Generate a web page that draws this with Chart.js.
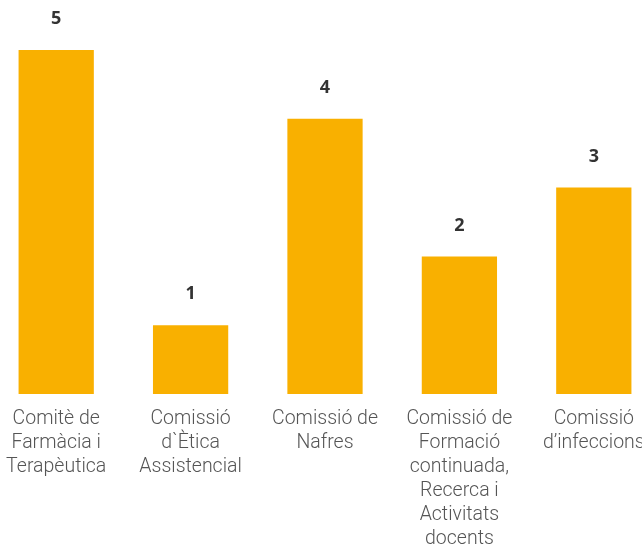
<!DOCTYPE html>
<html>
<head>
<meta charset="utf-8">
<script src="https://cdn.jsdelivr.net/npm/chart.js@4"></script>
<style>
  html, body { margin: 0; padding: 0; background: #fff; overflow: hidden; }
  #wrap { position: absolute; left: -11px; top: 0; width: 672px; height: 550px; }
</style>
</head>
<body>
<div id="wrap"><canvas id="myChart"></canvas></div>
<script>
const categories = [
    ['Comitè de', 'Farmàcia i', 'Terapèutica'],
    ['Comissió', 'd`Ètica', 'Assistencial'],
    ['Comissió de', 'Nafres'],
    ['Comissió de', 'Formació', 'continuada,', 'Recerca i', 'Activitats', 'docents'],
    ['Comissió', 'd’infeccions']
];
const values = [5, 1, 4, 2, 3];

// etiquetes de valor damunt de cada barra
const valueLabels = {
    id: 'valueLabels',
    afterDatasetsDraw(chart) {
        const ctx = chart.ctx;
        const meta = chart.getDatasetMeta(0);
        ctx.save();
        ctx.font = 'bold 18px "Open Sans", sans-serif';
        ctx.fillStyle = '#333333';
        ctx.textAlign = 'center';
        ctx.textBaseline = 'middle';
        meta.data.forEach((bar, i) => {
            ctx.fillText(String(values[i]), bar.x, bar.y - 31);
        });
        ctx.restore();
    }
};

const ctx = document.getElementById('myChart').getContext('2d');
const myChart = new Chart(ctx, {
    type: 'bar',
    data: {
        labels: categories,
        datasets: [{
            data: values,
            backgroundColor: '#f9b000',
            borderWidth: 0,
            categoryPercentage: 1,
            barPercentage: 0.56
        }]
    },
    plugins: [valueLabels],
    options: {
        responsive: true,
        maintainAspectRatio: false,
        animation: false,
        layout: { padding: { top: 50, left: 0, right: 0, bottom: 0 } },
        plugins: {
            legend: { display: false },
            tooltip: { enabled: false }
        },
        scales: {
            x: {
                grid: { display: false, drawTicks: false },
                border: { display: false },
                ticks: {
                    color: '#555555',
                    padding: 13,
                    maxRotation: 0,
                    autoSkip: false,
                    font: { family: 'Roboto', size: 19.5, weight: '300', lineHeight: 1.23 }
                },
                afterFit(scale) { scale.height = 156; }
            },
            y: {
                display: false,
                min: 0,
                max: 5
            }
        }
    }
});
</script>
</body>
</html>
